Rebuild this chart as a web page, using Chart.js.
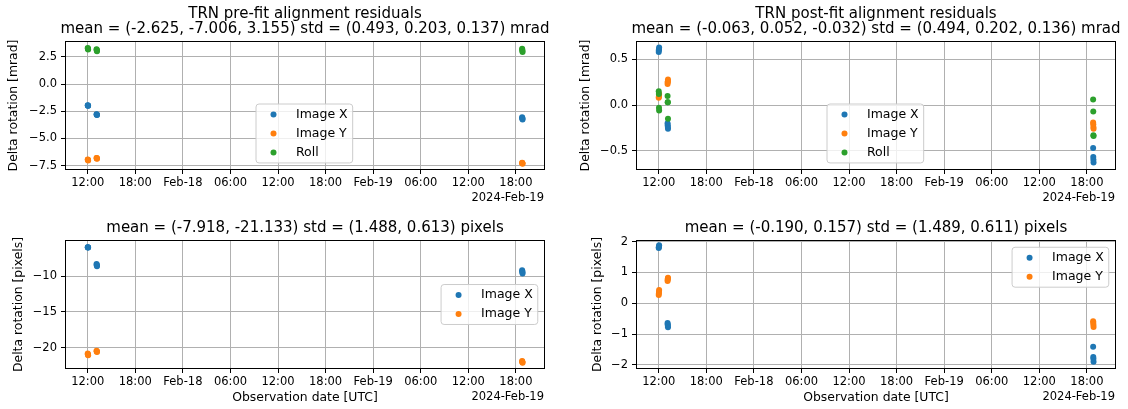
<!DOCTYPE html>
<html>
<head>
<meta charset="utf-8">
<script src="https://cdn.jsdelivr.net/npm/chart.js@4.4.1/dist/chart.umd.min.js"></script>
<style>
html, body { margin: 0; padding: 0; background: #fff; width: 1128px; height: 409px; overflow: hidden; }
#fig { position: relative; width: 1128px; height: 409px; overflow: hidden; }
canvas { position: absolute; }
</style>
</head>
<body>
<div id="fig">
  <canvas id="preRot" width="610" height="205" style="left:0px;top:0px"></canvas>
  <canvas id="postRot" width="612" height="205" style="left:570px;top:0px"></canvas>
  <canvas id="prePix" width="610" height="204" style="left:0px;top:205px"></canvas>
  <canvas id="postPix" width="612" height="204" style="left:570px;top:205px"></canvas>
</div>
<script>
Chart.defaults.font.family = '"DejaVu Sans", sans-serif';
Chart.defaults.font.size = 11.5;
Chart.defaults.color = '#000';

// observation epochs (UTC), 4 frames per pass
const obsTimes = [
  '2024-02-17T12:00Z', '2024-02-17T12:01Z', '2024-02-17T12:02Z', '2024-02-17T12:03Z',
  '2024-02-17T13:07Z', '2024-02-17T13:08Z', '2024-02-17T13:09Z', '2024-02-17T13:10Z',
  '2024-02-19T18:47Z', '2024-02-19T18:48Z', '2024-02-19T18:49Z', '2024-02-19T18:50Z'
];

// pre-fit rotation residuals [mrad]
const preX    = [-1.95, -1.97, -1.99, -2.00, -2.78, -2.80, -2.82, -2.84, -3.05, -3.12, -3.18, -3.25];
const preY    = [-6.93, -6.96, -6.98, -7.01, -6.78, -6.80, -6.83, -6.85, -7.22, -7.25, -7.28, -7.31];
const preRoll = [3.30, 3.26, 3.22, 3.18, 3.20, 3.14, 3.08, 3.02, 3.24, 3.14, 3.04, 2.94];

// post-fit rotation residuals [mrad]
const postX    = [0.58, 0.60, 0.61, 0.63, -0.20, -0.22, -0.24, -0.26, -0.47, -0.57, -0.60, -0.63];
const postY    = [0.08, 0.09, 0.10, 0.12, 0.23, 0.25, 0.26, 0.28, -0.19, -0.21, -0.24, -0.26];
const postRoll = [0.15, 0.12, -0.03, -0.06, 0.10, 0.03, 0.03, -0.15, 0.06, -0.07, -0.33, -0.34];

// pixel residuals
const prePxX  = [-5.93, -5.95, -5.97, -5.99, -8.30, -8.40, -8.50, -8.60, -9.15, -9.30, -9.45, -9.60];
const prePxY  = [-20.82, -20.90, -20.98, -21.06, -20.42, -20.48, -20.54, -20.60, -21.86, -21.94, -22.02, -22.10];
const postPxX = [1.79, 1.82, 1.85, 1.88, -0.64, -0.68, -0.73, -0.78, -1.41, -1.74, -1.80, -1.90];
const postPxY = [0.27, 0.32, 0.37, 0.43, 0.72, 0.76, 0.80, 0.83, -0.58, -0.63, -0.70, -0.77];

const seriesNames = ['Image X', 'Image Y', 'Roll'];

// x axis: hours since 2024-02-17 00:00 UTC
const xTickHours  = [12, 18, 24, 30, 36, 42, 48, 54, 60, 66];
const xTickLabels = ['12:00', '18:00', 'Feb-18', '06:00', '12:00', '18:00', 'Feb-19', '06:00', '12:00', '18:00'];
const offsetLabel = '2024-Feb-19';
const xMin = 9.26, xMax = 69.54;

const preRotTicks  = [-7.5, -5.0, -2.5, 0.0, 2.5];
const postRotTicks = [-0.5, 0.0, 0.5];
const prePixTicks  = [-20, -15, -10];
const postPixTicks = [-2, -1, 0, 1, 2];

const t0 = Date.UTC(2024, 1, 17);
const obsHours = obsTimes.map(t => (Date.parse(t) - t0) / 3600000);

const colors = ['#1f77b4', '#ff7f0e', '#2ca02c'];
const minus = s => s.replace('-', '\u2212');

// axes frame on all four sides
const frame = {
  id: 'frame',
  afterDatasetsDraw(chart) {
    const {ctx, chartArea: a} = chart;
    ctx.save();
    ctx.strokeStyle = '#000';
    ctx.lineWidth = 1;
    const l = Math.round(a.left) - 0.5, t = Math.round(a.top) - 0.5;
    const r = Math.round(a.right) + 0.5, b = Math.round(a.bottom) + 0.5;
    ctx.strokeRect(l, t, r - l, b - t);
    ctx.restore();
  }
};

// date offset under the x axis (right aligned)
const offsetText = {
  id: 'offsetText',
  afterDraw(chart, args, opts) {
    const {ctx, chartArea: a} = chart;
    ctx.save();
    ctx.font = '11.5px "DejaVu Sans"';
    ctx.fillStyle = '#000';
    ctx.textAlign = 'right';
    ctx.textBaseline = 'middle';
    ctx.fillText(opts.text, a.right, a.bottom + 29.5);
    ctx.restore();
  }
};

// matplotlib style legend box
const mplLegend = {
  id: 'mplLegend',
  afterDraw(chart, args, opts) {
    const {ctx, chartArea: a} = chart;
    const items = chart.data.datasets;
    ctx.save();
    ctx.font = '12.5px "DejaVu Sans"';
    const textW = Math.max(...items.map(d => ctx.measureText(d.label).width));
    const padX = 5, padY = 4.1, handle = 25, gap = 10, rowH = 12.75, sp = 6.25;
    const w = padX + handle + gap + textW + padX;
    const h = 2 * padY + items.length * rowH + (items.length - 1) * sp;
    let x, y;
    if (opts.loc === 'upper right') {
      x = a.right - 6.25 - w; y = a.top + 6.25;
    } else if (opts.loc === 'center right') {
      x = a.right - 6.25 - w; y = (a.top + a.bottom) / 2 - h / 2;
    } else {
      x = a.left + opts.loc.x; y = a.top + opts.loc.y;
    }
    ctx.beginPath();
    if (ctx.roundRect) ctx.roundRect(x, y, w, h, 3); else ctx.rect(x, y, w, h);
    ctx.fillStyle = 'rgba(255,255,255,0.8)';
    ctx.fill();
    ctx.strokeStyle = '#cccccc';
    ctx.lineWidth = 1;
    ctx.stroke();
    items.forEach((d, i) => {
      const cy = y + padY + rowH / 2 + i * (rowH + sp);
      ctx.beginPath();
      ctx.arc(x + padX + handle / 2, cy, 3, 0, Math.PI * 2);
      ctx.fillStyle = d.backgroundColor;
      ctx.fill();
      ctx.fillStyle = '#000';
      ctx.textAlign = 'left';
      ctx.textBaseline = 'middle';
      ctx.fillText(d.label, x + padX + handle + gap, cy);
    });
    ctx.restore();
  }
};

const gridOpts = {color: '#b0b0b0', lineWidth: 1, tickColor: '#000', tickLength: 5, tickWidth: 1, drawTicks: true};

function panel(id, spec) {
  const datasets = spec.series.map((vals, k) => ({
    label: seriesNames[k],
    data: vals.map((v, i) => ({x: obsHours[i], y: v})),
    backgroundColor: colors[k],
    borderColor: colors[k],
    pointRadius: 3,
    pointHoverRadius: 3,
    pointBorderWidth: 0,
    order: -k
  }));
  return new Chart(document.getElementById(id), {
    type: 'scatter',
    data: {datasets: datasets},
    options: {
      responsive: false,
      animation: false,
      events: [],
      devicePixelRatio: 1,
      layout: {padding: 0},
      plugins: {
        legend: {display: false},
        tooltip: {enabled: false},
        title: {
          display: true, text: spec.title, color: '#000',
          font: {size: 15, weight: 'normal', lineHeight: 15.5 / 15},
          padding: spec.titlePad
        },
        mplLegend: {loc: spec.legendLoc},
        offsetText: {text: offsetLabel}
      },
      scales: {
        x: {
          type: 'linear', min: xMin, max: xMax,
          afterBuildTicks: s => { s.ticks = xTickHours.map(v => ({value: v})); },
          afterFit: s => { s.height = spec.xHeight; },
          ticks: {autoSkip: false, maxRotation: 0, minRotation: 0, padding: 2,
                  callback: (v, i) => xTickLabels[i]},
          grid: gridOpts,
          border: {display: false},
          title: spec.xTitle
            ? {display: true, text: spec.xTitle, font: {size: 12.4, lineHeight: 1.2}, padding: {top: 0, bottom: 4}}
            : {display: false}
        },
        y: {
          type: 'linear', min: spec.yMin, max: spec.yMax,
          afterBuildTicks: s => { s.ticks = spec.yTicks.map(v => ({value: v})); },
          afterFit: s => { s.width = spec.yWidth; },
          ticks: {padding: 4, callback: v => minus(v.toFixed(spec.yDigits))},
          grid: gridOpts,
          border: {display: false},
          title: {display: true, text: spec.yTitle, font: {size: 12.4, lineHeight: 1.2},
                  padding: {top: spec.yTitlePad, bottom: 0}}
        },
        // empty right margin so the title centres on the axes
        yRight: {
          position: 'right', display: true,
          afterFit: s => { s.width = spec.yWidth; },
          ticks: {display: false},
          grid: {display: false, drawTicks: false},
          border: {display: false}
        }
      }
    },
    plugins: [frame, offsetText, mplLegend]
  });
}

panel('preRot', {
  series: [preX, preY, preRoll],
  title: ['TRN pre-fit alignment residuals',
          'mean = (-2.625, -7.006, 3.155) std = (0.493, 0.203, 0.137) mrad'],
  titlePad: {top: 6, bottom: 5},
  yMin: -7.8, yMax: 3.86, yTicks: preRotTicks, yDigits: 1,
  yTitle: 'Delta rotation [mrad]', yTitlePad: 6.5,
  yWidth: 66, xHeight: 36,
  legendLoc: {x: 190, y: 62}
});

panel('postRot', {
  series: [postX, postY, postRoll],
  title: ['TRN post-fit alignment residuals',
          'mean = (-0.063, 0.052, -0.032) std = (0.494, 0.202, 0.136) mrad'],
  titlePad: {top: 6, bottom: 5},
  yMin: -0.70, yMax: 0.69, yTicks: postRotTicks, yDigits: 1,
  yTitle: 'Delta rotation [mrad]', yTitlePad: 8.5,
  yWidth: 67, xHeight: 36,
  legendLoc: {x: 190, y: 62}
});

panel('prePix', {
  series: [prePxX, prePxY],
  title: 'mean = (-7.918, -21.133) std = (1.488, 0.613) pixels',
  titlePad: {top: 15.5, bottom: 5},
  yMin: -22.84, yMax: -5.07, yTicks: prePixTicks, yDigits: 0,
  yTitle: 'Delta rotation [pixels]', yTitlePad: 11,
  yWidth: 66, xHeight: 41,
  xTitle: 'Observation date [UTC]',
  legendLoc: 'center right'
});

panel('postPix', {
  series: [postPxX, postPxY],
  title: 'mean = (-0.190, 0.157) std = (1.489, 0.611) pixels',
  titlePad: {top: 15.5, bottom: 5},
  yMin: -2.1, yMax: 2.02, yTicks: postPixTicks, yDigits: 0,
  yTitle: 'Delta rotation [pixels]', yTitlePad: 20.5,
  yWidth: 67, xHeight: 41,
  xTitle: 'Observation date [UTC]',
  legendLoc: 'upper right'
});
</script>
</body>
</html>
